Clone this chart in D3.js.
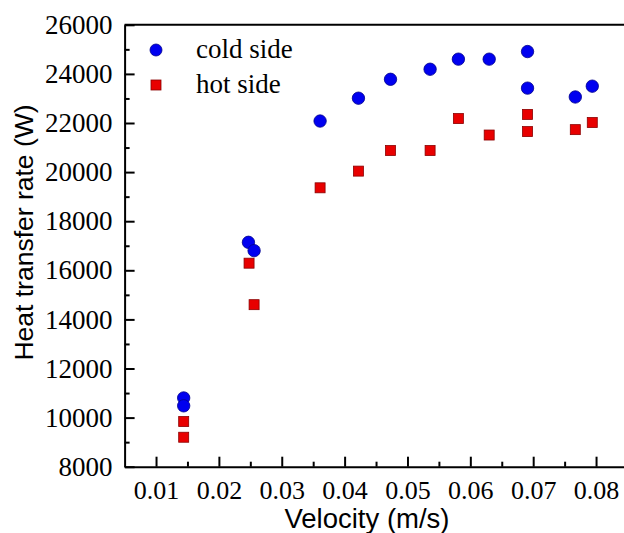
<!DOCTYPE html>
<html>
<head>
<meta charset="utf-8">
<script src="https://cdn.jsdelivr.net/npm/d3@7"></script>
<style>
  html, body { margin: 0; padding: 0; background: #fff; }
  svg { display: block; }
</style>
</head>
<body>
<svg id="chart" width="624" height="533"></svg>
<script>
// ---- data ----
const coldVelocity = [0.0144, 0.0144, 0.0247, 0.0256, 0.0361, 0.0422, 0.0473, 0.0536, 0.0581, 0.0630, 0.0691, 0.0691, 0.0767, 0.0794];
const coldRate     = [10800, 10480, 17140, 16800, 22080, 23010, 23780, 24190, 24600, 24600, 24910, 23420, 23060, 23500];
const hotVelocity  = [0.0144, 0.0144, 0.0248, 0.0256, 0.0361, 0.0422, 0.0473, 0.0536, 0.0581, 0.0630, 0.0691, 0.0691, 0.0767, 0.0794];
const hotRate      = [9840, 9200, 16290, 14600, 19360, 20040, 20880, 20880, 22180, 21510, 22350, 21650, 21730, 22020];
const seriesNames  = ["cold side", "hot side"];
const xTickValues  = [0.01, 0.02, 0.03, 0.04, 0.05, 0.06, 0.07, 0.08];
const xTickLabels  = ["0.01", "0.02", "0.03", "0.04", "0.05", "0.06", "0.07", "0.08"];
const xMinorTicks  = [0.015, 0.025, 0.035, 0.045, 0.055, 0.065, 0.075, 0.085];
const yTickValues  = [8000, 10000, 12000, 14000, 16000, 18000, 20000, 22000, 24000, 26000];
const yTickLabels  = ["8000", "10000", "12000", "14000", "16000", "18000", "20000", "22000", "24000", "26000"];
const yMinorTicks  = [9000, 11000, 13000, 15000, 17000, 19000, 21000, 23000, 25000];
const xTitle = "Velocity (m/s)";
const yTitle = "Heat transfer rate (W)";

// ---- layout ----
const svg = d3.select("#chart");
const plotLeft = 124.6, plotTop = 24.8, plotBottom = 466.7;
const x = d3.scaleLinear().domain([0.005, 0.0855]).range([plotLeft, plotLeft + 0.0805 * 6286]);
const y = d3.scaleLinear().domain([8000, 26000]).range([plotBottom, plotTop]);
const plotRight = x.range()[1];

const serif = "'Liberation Serif', 'Times New Roman', serif";
const sans = "'Liberation Sans', Arial, sans-serif";

// minor ticks
svg.append("g").attr("transform", `translate(0,${plotBottom})`)
  .call(d3.axisBottom(x).tickValues(xMinorTicks).tickSizeInner(-5).tickSizeOuter(0).tickFormat(""))
  .call(g => g.select(".domain").remove())
  .call(g => g.selectAll("line").attr("stroke", "#000").attr("stroke-width", 2));
svg.append("g").attr("transform", `translate(${plotLeft},0)`)
  .call(d3.axisLeft(y).tickValues(yMinorTicks).tickSizeInner(-5).tickSizeOuter(0).tickFormat(""))
  .call(g => g.select(".domain").remove())
  .call(g => g.selectAll("line").attr("stroke", "#000").attr("stroke-width", 2));

// major x axis
svg.append("g").attr("transform", `translate(0,${plotBottom})`)
  .call(d3.axisBottom(x).tickValues(xTickValues).tickSizeInner(-10).tickSizeOuter(0).tickPadding(14)
        .tickFormat((d, i) => xTickLabels[i]))
  .call(g => g.select(".domain").attr("stroke", "#000").attr("stroke-width", 2))
  .call(g => g.selectAll("line").attr("stroke", "#000").attr("stroke-width", 2))
  .call(g => g.selectAll("text").attr("font-family", serif).attr("font-size", 26).attr("fill", "#000"));

// major y axis
svg.append("g").attr("transform", `translate(${plotLeft},0)`)
  .call(d3.axisLeft(y).tickValues(yTickValues).tickSizeInner(-10).tickSizeOuter(0).tickPadding(12)
        .tickFormat((d, i) => yTickLabels[i]))
  .call(g => g.select(".domain").attr("stroke", "#000").attr("stroke-width", 2))
  .call(g => g.selectAll("line").attr("stroke", "#000").attr("stroke-width", 2))
  .call(g => g.selectAll("text").attr("font-family", serif).attr("font-size", 27).attr("fill", "#000"));

// top frame line
svg.append("line").attr("x1", plotLeft).attr("x2", plotRight).attr("y1", plotTop).attr("y2", plotTop)
  .attr("stroke", "#000").attr("stroke-width", 2);

// data
const cold = coldVelocity.map((v, i) => ({ v, r: coldRate[i] }));
const hot = hotVelocity.map((v, i) => ({ v, r: hotRate[i] }));

svg.append("g").selectAll("rect").data(hot).join("rect")
  .attr("x", d => x(d.v) - 5).attr("y", d => y(d.r) - 5)
  .attr("width", 10).attr("height", 10)
  .attr("fill", "#e80000").attr("stroke", "#8b0000").attr("stroke-width", 0.8);

svg.append("g").selectAll("circle").data(cold).join("circle")
  .attr("cx", d => x(d.v)).attr("cy", d => y(d.r)).attr("r", 6.2)
  .attr("fill", "#0000f0").attr("stroke", "#00008b").attr("stroke-width", 0.8);

// legend
const lg = svg.append("g");
lg.append("circle").attr("cx", 156).attr("cy", 50).attr("r", 6)
  .attr("fill", "#0000f0").attr("stroke", "#00008b").attr("stroke-width", 0.8);
lg.append("rect").attr("x", 151).attr("y", 80).attr("width", 10).attr("height", 10)
  .attr("fill", "#e80000").attr("stroke", "#8b0000").attr("stroke-width", 0.8);
lg.append("text").attr("x", 196).attr("y", 58).text(seriesNames[0])
  .attr("font-family", serif).attr("font-size", 27).attr("fill", "#000");
lg.append("text").attr("x", 196).attr("y", 93).text(seriesNames[1])
  .attr("font-family", serif).attr("font-size", 27).attr("fill", "#000");

// axis titles
svg.append("text").attr("x", 367).attr("y", 528).attr("text-anchor", "middle")
  .attr("font-family", sans).attr("font-size", 27.5).attr("fill", "#000").text(xTitle);
svg.append("text").attr("transform", "translate(33,232.5) rotate(-90)").attr("text-anchor", "middle")
  .attr("font-family", sans).attr("font-size", 26.5).attr("fill", "#000").text(yTitle);
</script>
</body>
</html>
